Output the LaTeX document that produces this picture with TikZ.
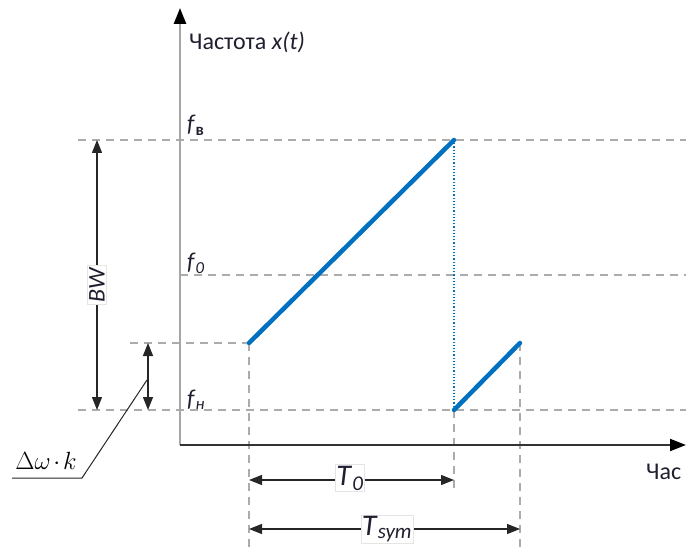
\documentclass[tikz,border=0pt]{standalone}
\usepackage{fontspec}
\setmainfont{Carlito}
\usetikzlibrary{arrows.meta}
\definecolor{ablue}{HTML}{0070C0}
\definecolor{txt}{HTML}{1F1F2F}
\begin{document}
\begin{tikzpicture}[x=1pt,y=-1pt,
  guide/.style={draw=gray!65, line width=1.4pt, dash pattern=on 8pt off 6pt},
  dimline/.style={line width=1.2pt, {Triangle[length=13pt,width=10pt]}-{Triangle[length=13pt,width=10pt]}},
  ramp/.style={draw=ablue, line width=4.5pt, line cap=round},
  lbl/.style={font=\fontsize{24}{28}\selectfont, text=txt, inner sep=1pt},
  big/.style={font=\fontsize{30}{34}\selectfont, text=txt},
  tag/.style={fill=white, draw=gray!20, line width=0.6pt, inner sep=2pt}
]
\useasboundingbox (0,0) rectangle (686,548);
% key points
\coordinate (O) at (180,445);
\coordinate (Ytop) at (180,8);
\coordinate (Xend) at (686,445);
\coordinate (A) at (249,343);
\coordinate (B) at (454,140);
\coordinate (C) at (454,410);
\coordinate (D) at (520,343);
% guide line ends
\coordinate (fvL) at (78,140);   \coordinate (fvR) at (686,140);
\coordinate (f0L) at (180,275);  \coordinate (f0R) at (686,275);
\coordinate (fnL) at (78,410);   \coordinate (fnR) at (686,410);
\coordinate (stL) at (130,343);
\coordinate (Abot) at (249,548);
\coordinate (Cbot) at (454,492);
\coordinate (Dbot) at (520,548);
% guides
\draw[guide] (fvL) -- (fvR);
\draw[guide] (f0L) -- (f0R);
\draw[guide] (fnL) -- (fnR);
\draw[guide] (stL) -- (A);
\draw[guide] (A) -- (Abot);
\draw[guide] (C) -- (Cbot);
\draw[guide] (D) -- (Dbot);
\draw[ablue, line width=1.2pt, dotted] (B) -- (C);
% axes
\draw[gray!70, line width=2.5pt, -{Triangle[length=16pt,width=12pt,color=black]}] (O) -- (Ytop);
\draw[black!80, line width=2pt, -{Triangle[length=16pt,width=12pt,color=black]}] (O) -- (Xend);
% ramps
\draw[ramp] (A) -- (B);
\draw[ramp] (C) -- (D);
% BW
\coordinate (bwT) at (97,140); \coordinate (bwB) at (97,410);
\draw[dimline, black!85] (bwT) -- (bwB);
\node[lbl, tag, rotate=90] (bw) at (97,285) {\textit{BW}};
% delta omega k
\coordinate (dkT) at (148,343); \coordinate (dkB) at (148,410);
\draw[dimline, black!85] (dkT) -- (dkB);
\coordinate (dkM) at (147,380);
\coordinate (ldA) at (82,478);
\coordinate (ldB) at (12,478);
\draw[black!85, line width=1pt] (dkM) -- (ldA) -- (ldB);
\node[font=\fontsize{23}{26}\selectfont, inner sep=1pt] (dk) at (46,461) {$\Delta\omega\mkern-2mu\cdot\mkern-2mu k$};
% time dims
\coordinate (t0L) at (249,480); \coordinate (t0R) at (454,480);
\draw[dimline, black!85] (t0L) -- (t0R);
\node[big, tag, inner sep=1pt] (t0) at (350,478) {\textit{T}\textsubscript{\textit{0}}};
\coordinate (tsL) at (249,529); \coordinate (tsR) at (520,529);
\draw[dimline, black!85] (tsL) -- (tsR);
\node[big, tag, inner sep=1pt] (ts) at (387,529) {\textit{T}\textsubscript{\textit{sym}}};
% labels
\node[lbl, anchor=west] (ylab) at (188,42) {Частота \textit{x(t)}};
\node[lbl, anchor=west] (xlab) at (645,472) {Час};
\node[lbl, anchor=base west] (fv) at (186,132) {\textit{f}\textsubscript{\textbf{в}}};
\node[lbl, anchor=base west] (f0) at (186,270) {\textit{f}\textsubscript{\textit{0}}};
\node[lbl, anchor=base west] (fn) at (186,406) {\textit{f}\textsubscript{\textit{н}}};
\end{tikzpicture}
\end{document}
